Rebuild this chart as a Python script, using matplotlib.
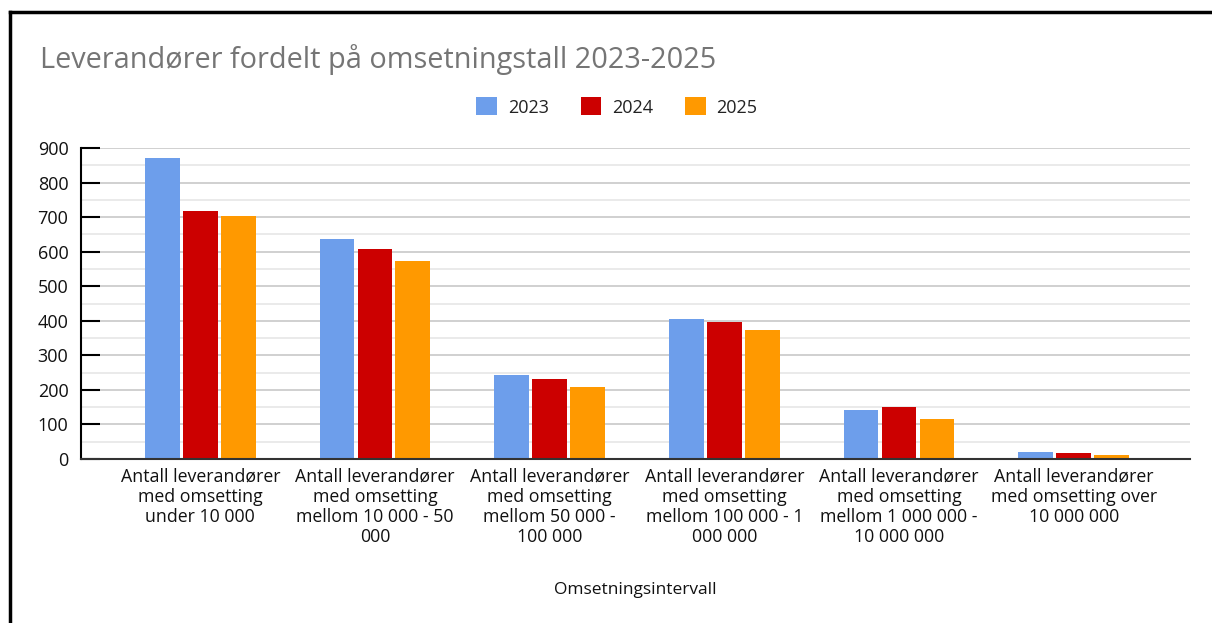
import matplotlib
matplotlib.use("Agg")
import matplotlib.pyplot as plt
import numpy as np
from matplotlib.lines import Line2D

plt.rcParams['font.family'] = ['Open Sans', 'DejaVu Sans']

categories = [
    "Antall leverandører\nmed omsetting\nunder 10 000",
    "Antall leverandører\nmed omsetting\nmellom 10 000 - 50\n000",
    "Antall leverandører\nmed omsetting\nmellom 50 000 -\n100 000",
    "Antall leverandører\nmed omsetting\nmellom 100 000 - 1\n000 000",
    "Antall leverandører\nmed omsetting\nmellom 1 000 000 -\n10 000 000",
    "Antall leverandører\nmed omsetting over\n10 000 000",
]
series_names = ["2023", "2024", "2025"]
values_2023 = [872, 637, 242, 405, 141, 21]
values_2024 = [718, 608, 232, 396, 150, 17]
values_2025 = [703, 573, 208, 372, 117, 11]
colors = ["#6d9eeb", "#cc0000", "#ff9900"]
yticks = [0, 100, 200, 300, 400, 500, 600, 700, 800, 900]

W, H = 1212, 623
fig = plt.figure(figsize=(W / 100, H / 100), dpi=100)
ax = fig.add_axes([81 / W, 1 - 459 / H, (1190 - 81) / W, (459 - 148) / H])

x = np.arange(len(categories))
step = 0.2175
width = 0.2
for i, (vals, col, name) in enumerate(zip([values_2023, values_2024, values_2025], colors, series_names)):
    ax.bar(x + (i - 1) * step, vals, width=width, color=col, label=name, zorder=3)

ax.set_xlim(-0.683, 5.666)
ax.set_ylim(0, 900)
ax.set_yticks(yticks)
ax.set_yticks(np.arange(50, 900, 100), minor=True)
ax.grid(axis='y', which='major', color='#c8c8c8', linewidth=1.2, zorder=0)
ax.grid(axis='y', which='minor', color='#e6e6e6', linewidth=1.2, zorder=0)
ax.tick_params(axis='y', which='major', direction='in', length=14, width=1.5, color='black',
               labelsize=13, labelcolor='#111111', pad=9)
ax.tick_params(axis='y', which='minor', length=0)
ax.set_xticks(x)
ax.set_xticklabels(categories, fontsize=12.8, color='#111111', linespacing=1.16)
ax.tick_params(axis='x', length=0, pad=6)

for s in ['top', 'right']:
    ax.spines[s].set_visible(False)
ax.spines['left'].set_color('black')
ax.spines['left'].set_linewidth(1.5)
ax.spines['bottom'].set_color('#333333')
ax.spines['bottom'].set_linewidth(1.5)
ax.spines['left'].set_zorder(4)
ax.spines['bottom'].set_zorder(4)

ax.set_xlabel("Omsetningsintervall", fontsize=12.5, color='#111111', labelpad=26)

fig.text(40 / W, 1 - 60 / H, "Leverandører fordelt på omsetningstall 2023-2025",
         fontsize=20.8, color='#757575', ha='left', va='center')

leg = fig.legend(loc='center', bbox_to_anchor=(617 / W, 1 - 107 / H), ncol=3, frameon=False,
                 fontsize=13, handlelength=1.15, handleheight=1.15, handletextpad=0.6,
                 columnspacing=1.75)
for t in leg.get_texts():
    t.set_color('#222222')

# outer frame lines (left and top)
fig.add_artist(Line2D([10 / W, 10 / W], [0, 1 - 12 / H], color='black', linewidth=2.5,
                      transform=fig.transFigure))
fig.add_artist(Line2D([10 / W, 1], [1 - 12 / H, 1 - 12 / H], color='black', linewidth=2.5,
                      transform=fig.transFigure))

fig.savefig("out.png", dpi=100)
